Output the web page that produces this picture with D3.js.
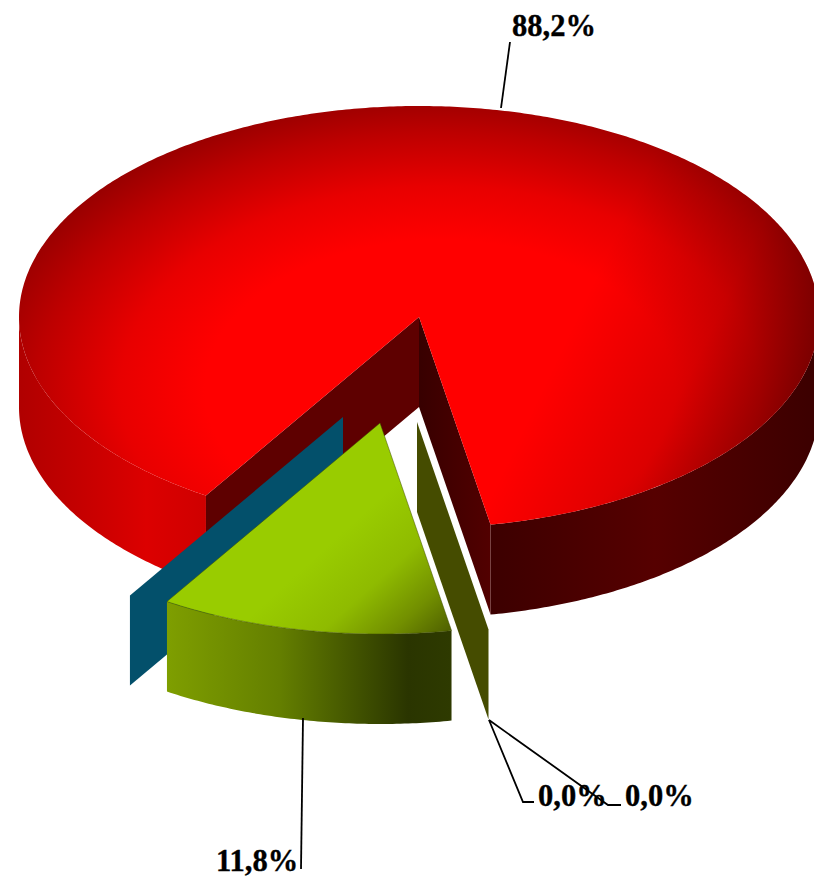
<!DOCTYPE html>
<html>
<head>
<meta charset="utf-8">
<script src="https://cdn.jsdelivr.net/npm/d3@7"></script>
<style>
html,body{margin:0;padding:0;background:#fff;}
svg{display:block;}
text{font-family:"Liberation Serif","Times New Roman",serif;font-weight:bold;font-size:30.5px;fill:#000;stroke:#000;stroke-width:0.35px;}
</style>
</head>
<body>
<svg id="chart" width="814" height="878"></svg>
<script>
// Data, in drawing sequence round the pie (clockwise from the start angle)
const categories = ["B", "C", "A", "D"];
const values = [11.8, 0, 88.2, 0];

// Styling / layout
const W = 814, H = 878;
const cx = 419, cy = 317, rx = 400, ry = 211, depth = 90;
const startDeg = 169.7;
const offsets = { A: [0, 0], B: [-39, 106], C: [-76, 100], D: [-2, 105] };
const labelAnchors = { A: [512, 36], B: [216, 871], C: [538, 806], D: [625, 806] };
const leaders = {
  A: [[510, 42], [501, 108]],
  B: [[303, 718], [301, 869]],
  C: [[489, 720], [523, 802], [534, 802]],
  D: [[489, 720], [608, 805], [621, 805]]
};

const svg = d3.select("#chart");
const defs = svg.append("defs");
function gradient(id, kind, attrs, stops) {
  const g = defs.append(kind).attr("id", id).attr("gradientUnits", "userSpaceOnUse");
  Object.entries(attrs).forEach(([k, v]) => g.attr(k, v));
  stops.forEach(([o, c, op]) => {
    const s = g.append("stop").attr("offset", o).attr("stop-color", c);
    if (op !== undefined) s.attr("stop-opacity", op);
  });
  return `url(#${id})`;
}
const redTop = gradient("redTop", "radialGradient",
  { cx: 0, cy: 0, r: 1, gradientTransform: "translate(440,390) scale(470,300)" },
  [[0, "#ff0000"], [0.5, "#ff0000"], [0.68, "#e80000"], [0.86, "#bc0000"], [1, "#940000"]]);
const redShade = gradient("redShade", "linearGradient", { x1: 570, y1: 330, x2: 800, y2: 440 },
  [[0, "#000", 0], [0.5, "#000", 0.14], [1, "#000", 0.45]]);
const redSide = gradient("redSide", "linearGradient", { x1: 19, y1: 0, x2: 814, y2: 0 },
  [[0, "#b00000"], [0.16, "#dc0000"], [0.23, "#d00000"], [0.59, "#3c0000"], [0.8, "#560000"], [1, "#3c0000"]]);
const redWallR = gradient("redWallR", "linearGradient", { x1: 420, y1: 0, x2: 491, y2: 0 },
  [[0, "#380000"], [1, "#520000"]]);
const greenTop = gradient("greenTop", "linearGradient", { x1: 345, y1: 530, x2: 445, y2: 640 },
  [[0, "#99cc00"], [0.4, "#8fbb00"], [0.72, "#728f00"], [1, "#4c5c00"]]);
const greenSide = gradient("greenSide", "linearGradient", { x1: 165, y1: 0, x2: 451, y2: 0 },
  [[0, "#7f9f00"], [0.4, "#647f00"], [0.85, "#2a3500"], [1, "#2e3a00"]]);
const fills = { C: "#03506b", D: "#454c00" };

// Projection: unit circle to the tilted ellipse
const xs = d3.scaleLinear().domain([-1, 1]).range([cx - rx, cx + rx]);
const ys = d3.scaleLinear().domain([-1, 1]).range([cy - ry, cy + ry]);
const line = d3.line();
const pt = (a, off, dz = 0) => [xs(Math.sin(a)) + off[0], ys(-Math.cos(a)) + off[1] + dz];
const arcPts = (a0, a1, off, dz = 0) => {
  const n = Math.max(2, Math.ceil(Math.abs(a1 - a0) / 0.01));
  return d3.range(n + 1).map(i => pt(a0 + (a1 - a0) * i / n, off, dz));
};
const apex = (off, dz = 0) => [xs(0) + off[0], ys(0) + off[1] + dz];

// Angles from the library's pie layout
const pieGen = d3.pie().sort(null).value(d => d.value).startAngle(startDeg * Math.PI / 180)
  .endAngle((startDeg + 360) * Math.PI / 180);
const slices = pieGen(categories.map((c, i) => ({ cat: c, value: values[i] })));
const byCat = Object.fromEntries(slices.map(s => [s.data.cat, s]));

const draw = (pts, fill, stroke, sw) => svg.append("path")
  .attr("d", line(pts) + "Z").attr("fill", fill)
  .attr("stroke", stroke || "none").attr("stroke-width", sw || 0);

const sideBand = (a0, a1, off, fill) => {
  const top = arcPts(a0, a1, off);
  const bot = arcPts(a1, a0, off, depth);
  draw(top.concat(bot), fill);
};

// Big slice
{
  const s = byCat.A, o = offsets.A;
  sideBand(s.startAngle, 1.5 * Math.PI, o, redSide);
  sideBand(2.5 * Math.PI, s.endAngle, o, redSide);
  draw([apex(o), pt(s.startAngle, o), pt(s.startAngle, o, depth), apex(o, depth)], "#5e0000");
  draw([apex(o), pt(s.endAngle, o), pt(s.endAngle, o, depth), apex(o, depth)], redWallR);
  const outline = [apex(o)].concat(arcPts(s.startAngle, s.endAngle, o));
  draw(outline, redTop);
  draw(outline, redShade);
}
// Zero slices: flat panels
["C", "D"].forEach(c => {
  const s = byCat[c], o = offsets[c];
  draw([apex(o), pt(s.startAngle, o), pt(s.startAngle, o, depth), apex(o, depth)], fills[c]);
});
// Small slice
{
  const s = byCat.B, o = offsets.B;
  sideBand(s.startAngle, s.endAngle, o, greenSide);
  draw([apex(o)].concat(arcPts(s.startAngle, s.endAngle, o)), greenTop, "#3f4d00", 0.5);
}

// Leaders and labels
const fmt = d3.formatLocale({ decimal: ",", thousands: ".", grouping: [3], currency: ["", ""] }).format(".1f");
categories.forEach((c, i) => {
  svg.append("path").attr("d", line(leaders[c])).attr("fill", "none")
    .attr("stroke", "#000").attr("stroke-width", 1.8);
  svg.append("text").attr("x", labelAnchors[c][0]).attr("y", labelAnchors[c][1])
    .text(fmt(values[i]) + "%");
});
</script>
</body>
</html>
